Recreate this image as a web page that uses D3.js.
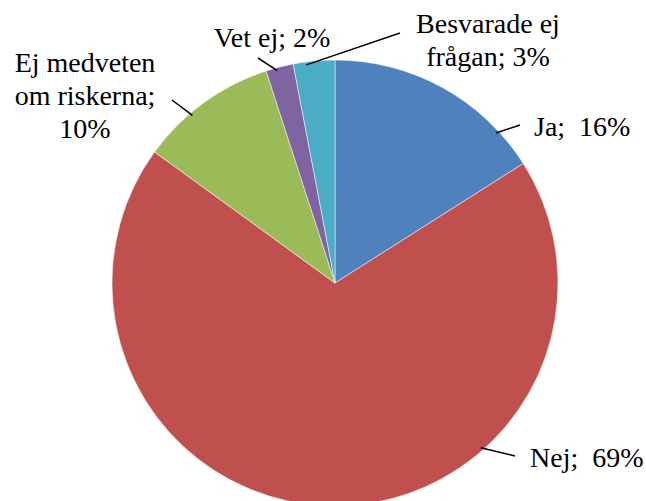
<!DOCTYPE html>
<html>
<head>
<meta charset="utf-8">
<script src="https://cdn.jsdelivr.net/npm/d3@7"></script>
<style>
  html, body { margin: 0; padding: 0; background: #fff; }
  svg { display: block; }
</style>
</head>
<body>
<svg width="646" height="501"></svg>
<script>
const CATEGORIES = ['Ja', 'Nej', 'Ej medveten om riskerna', 'Vet ej', 'Besvarade ej frågan']
const VALUES = [16, 69, 10, 2, 3]
const COLORS = ['#4f81bd', '#c0504d', '#9bbb59', '#8064a2', '#4bacc6']

// label layout: text lines, anchor, position, leader line (rim angle in deg -> end point)
const LABELS = [
  { lines: ['Ja;  16%'], anchor: 'start', x: 534, y: 136, rim: 47, end: [520, 125] },
  { lines: ['Nej;  69%'], anchor: 'start', x: 530, y: 467, rim: 138.5, end: [515, 456] },
  { lines: ['Ej medveten', 'om riskerna;', '10%'], anchor: 'middle', x: 85, y: 72, rim: 319.6, end: [172, 100] },
  { lines: ['Vet ej; 2%'], anchor: 'middle', x: 272, y: 47, rim: 344.8, end: [258, 58] },
  { lines: ['Besvarade ej', 'frågan; 3%'], anchor: 'middle', x: 488, y: 33, rim: 352.5, end: [400, 33] }
]

const FONT = "'Liberation Serif', 'Times New Roman', Tinos, 'DejaVu Serif', serif"

const svg = d3.select('svg')
const cx = 335
const cy = 283
const radius = 223

const pie = d3.pie().sort(null).value(d => d)
const arc = d3.arc().innerRadius(0).outerRadius(radius)
const arcs = pie(VALUES)

const g = svg.append('g').attr('transform', `translate(${cx},${cy})`)

g.selectAll('path')
  .data(arcs)
  .enter().append('path')
  .attr('d', arc)
  .attr('fill', (d, i) => COLORS[i])
  .attr('stroke', '#fff')
  .attr('stroke-width', 0.5)

// leader lines
svg.selectAll('line.leader')
  .data(LABELS)
  .enter().append('line')
  .attr('class', 'leader')
  .attr('x1', d => cx + (radius - 3) * Math.sin(d.rim * Math.PI / 180))
  .attr('y1', d => cy - (radius - 3) * Math.cos(d.rim * Math.PI / 180))
  .attr('x2', d => d.end[0])
  .attr('y2', d => d.end[1])
  .attr('stroke', '#000')
  .attr('stroke-width', 1.5)

const labels = svg.selectAll('text.label')
  .data(LABELS)
  .enter().append('text')
  .attr('class', 'label')
  .attr('font-family', FONT)
  .attr('font-size', 28)
  .attr('fill', '#000')
  .attr('text-anchor', d => d.anchor)
  .attr('x', d => d.x)
  .attr('y', d => d.y)

labels.selectAll('tspan')
  .data(d => d.lines.map(l => ({ text: l, x: d.x })))
  .enter().append('tspan')
  .attr('x', d => d.x)
  .attr('dy', (d, i) => i === 0 ? 0 : 33)
  .style('white-space', 'pre')
  .text(d => d.text)
</script>
</body>
</html>
